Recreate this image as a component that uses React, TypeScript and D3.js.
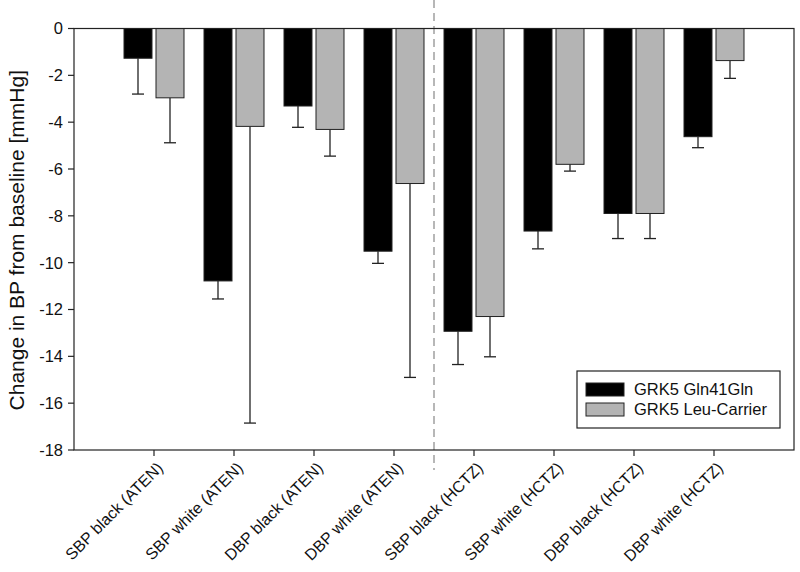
import React from "react";
import * as d3 from "d3";

const categories = [
  "SBP black (ATEN)", "SBP white (ATEN)", "DBP black (ATEN)", "DBP white (ATEN)",
  "SBP black (HCTZ)", "SBP white (HCTZ)", "DBP black (HCTZ)", "DBP white (HCTZ)",
];
const seriesNames = ["GRK5 Gln41Gln", "GRK5 Leu-Carrier"];
const glnMean = [-1.27, -10.78, -3.31, -9.51, -12.93, -8.65, -7.9, -4.62];
const glnErr = [-2.8, -11.55, -4.22, -10.03, -14.35, -9.41, -8.97, -5.09];
const leuMean = [-2.96, -4.18, -4.31, -6.62, -12.3, -5.8, -7.9, -1.37];
const leuErr = [-4.88, -16.85, -5.45, -14.9, -14.02, -6.09, -8.97, -2.13];
const yTicks = [0, -2, -4, -6, -8, -10, -12, -14, -16, -18];

const W = 800, H = 572;
const L = 74, R = 794, T = 28.5, B = 450;
const FONT = "Arial, 'Liberation Sans', sans-serif";

export default function App() {
  const x = d3.scaleLinear().domain([0, 9]).range([L, R]);
  const y = d3.scaleLinear().domain([0, -18]).range([T, B]);
  const barW = 28;
  const off = 16;
  const series = [
    { mean: glnMean, err: glnErr, fill: "#000000", dx: -off },
    { mean: leuMean, err: leuErr, fill: "#b4b4b4", dx: off },
  ];
  const sepX = (x(4) + x(5)) / 2;
  return (
    <svg width={W} height={H} style={{ position: "absolute", left: 0, top: 0 }} fontFamily={FONT}>
      <rect x={0} y={0} width={W} height={H} fill="#fff" />
      <line x1={sepX} x2={sepX} y1={0} y2={470} stroke="#888" strokeWidth={1.2} strokeDasharray="8,5" />
      {series.map((s, si) =>
        categories.map((c, i) => {
          const cx = x(i + 1) + s.dx;
          return (
            <g key={`${si}-${i}`}>
              <line x1={cx} x2={cx} y1={y(s.mean[i])} y2={y(s.err[i])} stroke="#222" strokeWidth={1.3} />
              <line x1={cx - 6} x2={cx + 6} y1={y(s.err[i])} y2={y(s.err[i])} stroke="#222" strokeWidth={1.3} />
              <rect x={cx - barW / 2} y={y(0)} width={barW} height={y(s.mean[i]) - y(0)}
                fill={s.fill} stroke="#222" strokeWidth={1} />
            </g>
          );
        })
      )}
      <rect x={L} y={T} width={R - L} height={B - T} fill="none" stroke="#222" strokeWidth={1.2} />
      {yTicks.map((t) => (
        <g key={t}>
          <line x1={L - 6} x2={L} y1={y(t)} y2={y(t)} stroke="#222" strokeWidth={1.2} />
          <text x={L - 11} y={y(t)} dy="0.36em" textAnchor="end" fontSize={16.5} fill="#111">{t}</text>
        </g>
      ))}
      {categories.map((c, i) => (
        <g key={c}>
          <line x1={x(i + 1)} x2={x(i + 1)} y1={B} y2={B + 6} stroke="#222" strokeWidth={1.2} />
          <text transform={`translate(${x(i + 1) + 2},${B + 11}) rotate(-45)`} textAnchor="end"
            fontSize={16} fill="#111" dy="0.7em">{c}</text>
        </g>
      ))}
      <text transform={`translate(24,${(T + B) / 2 + 1}) rotate(-90)`} textAnchor="middle" fontSize={21} fill="#111">
        Change in BP from baseline [mmHg]
      </text>
      <rect x={577} y={371} width={203} height={57} fill="#fff" stroke="#222" strokeWidth={1.2} />
      {seriesNames.map((n, i) => (
        <g key={n}>
          <rect x={586} y={383 + i * 20} width={38} height={13} fill={series[i].fill} stroke="#222" strokeWidth={1} />
          <text x={634} y={389.5 + i * 20} dy="0.36em" fontSize={16.5} fill="#111">{n}</text>
        </g>
      ))}
    </svg>
  );
}
